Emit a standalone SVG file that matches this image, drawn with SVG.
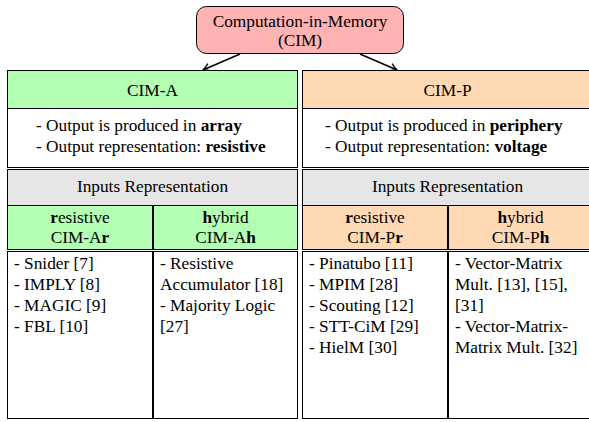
<svg xmlns="http://www.w3.org/2000/svg" width="589" height="422" viewBox="0 0 589 422" font-family="'Liberation Serif', 'Times New Roman', serif" font-size="17.3">
<defs>
<style>
text{fill:#000;font-family:'Liberation Serif','Times New Roman',serif}
.c{text-anchor:middle}
.b{font-weight:bold}
.box{stroke:#000;stroke-width:1}
.ga{fill:#b3ffb3}
.pa{fill:#ffd9b3}
.gr{fill:#e6e6e6}
.w{fill:#fff}
.conn{stroke:#000;stroke-width:1.5;fill:none}
</style>
<marker id="ah" viewBox="-8 -5 9 10" refX="0" refY="0" markerWidth="9" markerHeight="10" markerUnits="userSpaceOnUse" orient="auto">
<path d="M-7,-4 Q-3,-1 0,0 Q-3,1 -7,4" fill="none" stroke="#000" stroke-width="1.4"/>
</marker>
</defs>
<rect width="589" height="422" fill="#fff"/>

<g id="cim">
<rect x="196.5" y="6.5" width="207" height="47" rx="10" ry="10" fill="#ffb3b3" class="box"/>
<text x="300" y="26.5" class="c">Computation-in-Memory</text>
<text x="300" y="45.5" class="c">(CIM)</text>
</g>

<g id="connectors">
<line x1="240" y1="54" x2="203" y2="70" class="conn" marker-end="url(#ah)"/>
<line x1="360" y1="54" x2="397" y2="70" class="conn" marker-end="url(#ah)"/>
</g>

<g id="cim-a">
<rect x="7.5" y="70.5" width="290" height="38" class="box ga"/>
<text x="152.5" y="95.7" class="c">CIM-A</text>
<rect x="7.5" y="108.5" width="290" height="59" class="box w"/>
<text x="36" y="131">- Output is produced in <tspan class="b">array</tspan></text>
<text x="36" y="152.3">- Output representation: <tspan class="b">resistive</tspan></text>
<rect x="7.5" y="169.5" width="290" height="36" class="box gr"/>
<text x="152.5" y="191.7" class="c">Inputs Representation</text>
</g>

<g id="cim-ar">
<rect x="7.5" y="205.5" width="145" height="44" class="box ga"/>
<text x="80" y="223.3" class="c"><tspan class="b">r</tspan>esistive</text>
<text x="80" y="242.7" class="c">CIM-A<tspan class="b">r</tspan></text>
<rect x="7.5" y="251.5" width="145" height="167" class="box w"/>
<text x="14" y="269">- Snider [7]</text>
<text x="14" y="290">- IMPLY [8]</text>
<text x="14" y="311">- MAGIC [9]</text>
<text x="14" y="332">- FBL [10]</text>
</g>

<g id="cim-ah">
<rect x="153.5" y="205.5" width="144" height="44" class="box ga"/>
<text x="225.5" y="223.3" class="c"><tspan class="b">h</tspan>ybrid</text>
<text x="225.5" y="242.7" class="c">CIM-A<tspan class="b">h</tspan></text>
<rect x="153.5" y="251.5" width="144" height="167" class="box w"/>
<text x="160" y="269">- Resistive</text>
<text x="160" y="290">Accumulator [18]</text>
<text x="160" y="311">- Majority Logic</text>
<text x="160" y="332">[27]</text>
</g>

<g id="cim-p">
<rect x="302.5" y="70.5" width="290" height="38" class="box pa"/>
<text x="447.5" y="95.7" class="c">CIM-P</text>
<rect x="302.5" y="108.5" width="290" height="59" class="box w"/>
<text x="325" y="131">- Output is produced in <tspan class="b">periphery</tspan></text>
<text x="325" y="152.3">- Output representation: <tspan class="b">voltage</tspan></text>
<rect x="302.5" y="169.5" width="290" height="36" class="box gr"/>
<text x="447.5" y="191.7" class="c">Inputs Representation</text>
</g>

<g id="cim-pr">
<rect x="302.5" y="205.5" width="145" height="44" class="box pa"/>
<text x="375" y="223.3" class="c"><tspan class="b">r</tspan>esistive</text>
<text x="375" y="242.7" class="c">CIM-P<tspan class="b">r</tspan></text>
<rect x="302.5" y="251.5" width="145" height="167" class="box w"/>
<text x="309" y="269">- Pinatubo [11]</text>
<text x="309" y="290">- MPIM [28]</text>
<text x="309" y="311">- Scouting [12]</text>
<text x="309" y="332">- STT-CiM [29]</text>
<text x="309" y="353">- HielM [30]</text>
</g>

<g id="cim-ph">
<rect x="448.5" y="205.5" width="144" height="44" class="box pa"/>
<text x="520.5" y="223.3" class="c"><tspan class="b">h</tspan>ybrid</text>
<text x="520.5" y="242.7" class="c">CIM-P<tspan class="b">h</tspan></text>
<rect x="448.5" y="251.5" width="144" height="167" class="box w"/>
<text x="455" y="269">- Vector-Matrix</text>
<text x="455" y="290">Mult. [13], [15],</text>
<text x="455" y="311">[31]</text>
<text x="455" y="332">- Vector-Matrix-</text>
<text x="455" y="353">Matrix Mult. [32]</text>
</g>
</svg>
